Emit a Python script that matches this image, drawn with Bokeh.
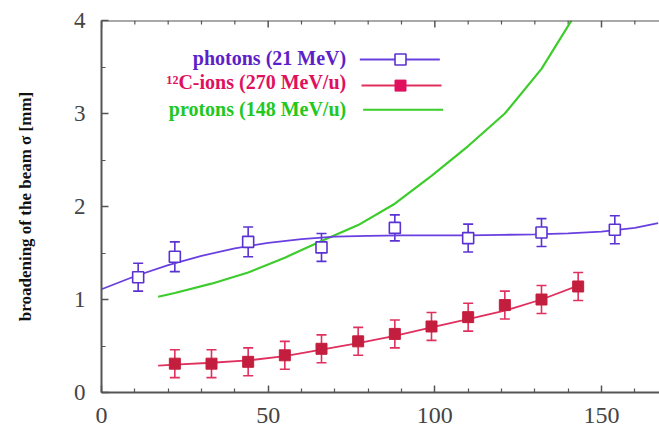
from bokeh.plotting import figure
from bokeh.models import (ColumnDataSource, Whisker, TeeHead, FixedTicker,
                          Range1d, Span)
from bokeh.embed import file_html
from bokeh.resources import INLINE
from bokeh.core.properties import value

# ---------------- data ----------------
photon_x = [11, 22, 44, 66, 88, 110, 132, 154]
photon_y = [1.24, 1.46, 1.62, 1.56, 1.77, 1.66, 1.72, 1.75]
photon_err = [0.15, 0.16, 0.16, 0.15, 0.14, 0.15, 0.15, 0.15]

photon_fit_x = [0, 10, 20, 30, 40, 50, 60, 70, 80, 90, 100, 110, 120, 130, 140, 150, 160, 167]
photon_fit_y = [1.11, 1.25, 1.37, 1.47, 1.55, 1.61, 1.65, 1.675, 1.685, 1.69, 1.69, 1.69,
                1.695, 1.70, 1.71, 1.73, 1.77, 1.82]

carbon_x = [22, 33, 44, 55, 66, 77, 88, 99, 110, 121, 132, 143]
carbon_y = [0.31, 0.31, 0.33, 0.40, 0.47, 0.55, 0.63, 0.71, 0.81, 0.94, 1.00, 1.14]
carbon_err = [0.15, 0.15, 0.15, 0.15, 0.15, 0.15, 0.15, 0.15, 0.15, 0.15, 0.15, 0.15]

carbon_fit_x = [17, 22, 33, 44, 55, 66, 77, 88, 99, 110, 121, 132, 143]
carbon_fit_y = [0.29, 0.30, 0.32, 0.345, 0.39, 0.46, 0.53, 0.61, 0.70, 0.79, 0.88, 1.00, 1.15]

proton_x = [17, 22, 33, 44, 55, 66, 77, 88, 99, 110, 121, 132, 141]
proton_y = [1.03, 1.07, 1.17, 1.29, 1.45, 1.63, 1.80, 2.03, 2.33, 2.65, 3.00, 3.48, 4.00]

x_min, x_max = 0, 167.4
y_min, y_max = 0, 4
x_major = [0, 50, 100, 150]
x_minor = [10, 20, 30, 40, 60, 70, 80, 90, 110, 120, 130, 140, 160]
y_major = [0, 1, 2, 3, 4]
y_minor = [0.5, 1.5, 2.5, 3.5]

labels = ["photons (21 MeV)", "\u00b9\u00b2C-ions (270 MeV/u)", "protons (148 MeV/u)"]
y_title = "broadening of the beam \u03c3 [mm]"

PHOTON = "#6a3fe0"
PHOTON_MK = "#5a32d2"
CARBON = "#e0305e"
CARBON_MK = "#c41e3e"
PROTON = "#3ccc2c"
AXIS = "#555555"

p = figure(width=659, height=430, output_backend="svg", toolbar_location=None,
           x_range=Range1d(x_min, x_max), y_range=Range1d(y_min, y_max),
           min_border_left=101, min_border_right=0, min_border_top=20, min_border_bottom=38)
p.outline_line_color = None
p.xgrid.grid_line_color = None
p.ygrid.grid_line_color = None
p.background_fill_color = "white"
p.border_fill_color = "white"


def style_axis(ax, major, minor, size):
    ax.ticker = FixedTicker(ticks=major, minor_ticks=minor)
    ax.axis_line_color = AXIS
    ax.axis_line_width = 2
    ax.major_tick_line_color = AXIS
    ax.minor_tick_line_color = AXIS
    ax.major_tick_line_width = 1.5
    ax.minor_tick_line_width = 1.2
    ax.major_tick_in = 7
    ax.major_tick_out = 0
    ax.minor_tick_in = 4
    ax.minor_tick_out = 0
    ax.major_label_text_font = "Liberation Serif"
    ax.major_label_text_color = "#444444"
    ax.major_label_text_font_size = size


xa = p.xaxis[0]
style_axis(xa, x_major, x_minor, "24px")
xa.major_label_standoff = 15

ya = p.yaxis[0]
style_axis(ya, y_major, y_minor, "23px")
ya.major_label_standoff = 16
ya.axis_label = y_title
ya.axis_label_text_font = "Liberation Serif"
ya.axis_label_text_font_style = "bold"
ya.axis_label_text_font_size = "17px"
ya.axis_label_text_color = "#111111"
ya.axis_label_standoff = 36

# top frame line with inward ticks (taken from the same tick lists)
p.add_layout(Span(location=y_max, dimension="width", line_color=AXIS, line_width=2))
maj_len = 7 / 93.0
min_len = 4 / 93.0
p.segment(x0=x_major, y0=[y_max] * len(x_major), x1=x_major,
          y1=[y_max - maj_len] * len(x_major), line_color=AXIS, line_width=1.5)
p.segment(x0=x_minor, y0=[y_max] * len(x_minor), x1=x_minor,
          y1=[y_max - min_len] * len(x_minor), line_color=AXIS, line_width=1.2)

# protons
p.line(proton_x, proton_y, line_color=PROTON, line_width=2.2)

# photons
p.line(photon_fit_x, photon_fit_y, line_color=PHOTON, line_width=1.8)
ph = ColumnDataSource(dict(x=photon_x, y=photon_y,
                           lo=[a - b for a, b in zip(photon_y, photon_err)],
                           hi=[a + b for a, b in zip(photon_y, photon_err)]))
p.add_layout(Whisker(source=ph, base="x", lower="lo", upper="hi",
                     line_color=PHOTON_MK, line_width=1.6,
                     upper_head=TeeHead(size=10, line_color=PHOTON_MK, line_width=1.6),
                     lower_head=TeeHead(size=10, line_color=PHOTON_MK, line_width=1.6)))
p.scatter("x", "y", source=ph, marker="square", size=11, fill_color="white",
          line_color=PHOTON_MK, line_width=1.6)

# carbon
p.line(carbon_fit_x, carbon_fit_y, line_color=CARBON, line_width=1.8)
cs = ColumnDataSource(dict(x=carbon_x, y=carbon_y,
                           lo=[a - b for a, b in zip(carbon_y, carbon_err)],
                           hi=[a + b for a, b in zip(carbon_y, carbon_err)]))
p.add_layout(Whisker(source=cs, base="x", lower="lo", upper="hi",
                     line_color=CARBON, line_width=1.6,
                     upper_head=TeeHead(size=10, line_color=CARBON, line_width=1.6),
                     lower_head=TeeHead(size=10, line_color=CARBON, line_width=1.6)))
p.scatter("x", "y", source=cs, marker="square", size=11, fill_color=CARBON_MK,
          line_color=CARBON_MK)

# legend (manual)
leg_text_x = 73.4
leg_rows_y = [3.60, 3.34, 3.05]
leg_line_y = [3.58, 3.30, 3.04]
leg_colors = ["#5e1fc8", "#e0105e", "#22c81e"]
p.text(x=[leg_text_x] * 3, y=leg_rows_y, text=labels, text_align="right",
       text_baseline="middle", text_font=value("Liberation Serif"),
       text_font_style="bold", text_font_size="20px", text_color=leg_colors)
p.segment(x0=[77.5, 78, 78.5], y0=leg_line_y, x1=[101.5, 102, 102.5], y1=leg_line_y,
          line_color=[PHOTON, CARBON, PROTON], line_width=2)
p.scatter(x=[89.7], y=[leg_line_y[0]], marker="square", size=11, fill_color="white",
          line_color=PHOTON_MK, line_width=1.6)
p.scatter(x=[89.7], y=[leg_line_y[1]], marker="square", size=11, fill_color="#e0105e",
          line_color="#e0105e")

open("out.html", "w").write(file_html(p, INLINE))
